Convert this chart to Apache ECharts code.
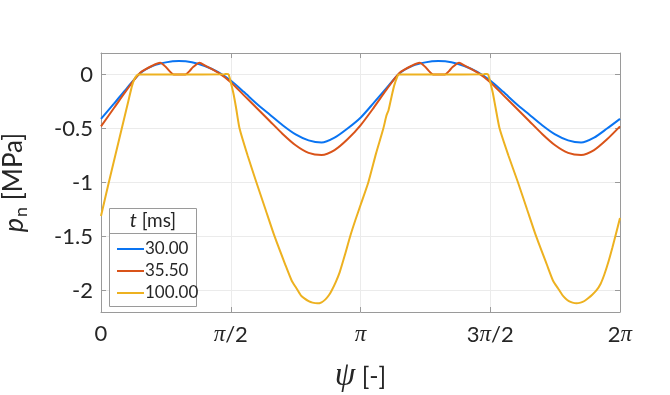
<!DOCTYPE html>
<html>
<head>
<meta charset="utf-8">
<script src="https://cdn.jsdelivr.net/npm/echarts@6/dist/echarts.min.js"></script>
<style>
  html, body { margin: 0; padding: 0; background: #fff; }
  #chart { width: 670px; height: 395px; }
</style>
</head>
<body>
<div id="chart"></div>
<script>
// psi is given in units of pi, p_n in MPa
var legendNames = ['30.00', '35.50', '100.00'];
var lineColors = ['#0a74f2', '#d95319', '#edb120'];

var xTickValues = [0, 0.5, 1, 1.5, 2];
var xTickLabels = ['0', 'π/2', 'π', '3π/2', '2π'];
var yTickValues = [-2, -1.5, -1, -0.5, 0];
var yTickLabels = ['-2', '-1.5', '-1', '-0.5', '0'];

var psiA = [0, 0.05, 0.10, 0.15, 0.20, 0.25, 0.30, 0.35, 0.40, 0.45, 0.50, 0.55, 0.60, 0.65, 0.70, 0.75, 0.80, 0.85, 0.90, 0.95,
            1.00, 1.05, 1.10, 1.15, 1.20, 1.25, 1.30, 1.35, 1.40, 1.45, 1.50, 1.55, 1.60, 1.65, 1.70, 1.75, 1.80, 1.85, 1.90, 1.95, 2.00];
var pA = [-0.41, -0.27, -0.125, 0.01, 0.08, 0.113, 0.125, 0.115, 0.08, 0.025, -0.055, -0.16, -0.27, -0.37, -0.47, -0.555, -0.61, -0.63, -0.585, -0.50,
          -0.40, -0.265, -0.125, 0.01, 0.08, 0.113, 0.125, 0.115, 0.08, 0.025, -0.055, -0.16, -0.27, -0.37, -0.47, -0.555, -0.61, -0.63, -0.585, -0.50, -0.41];

var psiB = [0, 0.05, 0.10, 0.15, 0.20, 0.228, 0.25, 0.265, 0.28, 0.30, 0.325, 0.34, 0.355, 0.38, 0.40, 0.45, 0.50, 0.55, 0.60, 0.65, 0.70, 0.75, 0.80, 0.85, 0.90, 0.95,
            1.00, 1.05, 1.10, 1.15, 1.20, 1.228, 1.25, 1.265, 1.28, 1.30, 1.325, 1.34, 1.355, 1.38, 1.40, 1.45, 1.50, 1.55, 1.60, 1.65, 1.70, 1.75, 1.80, 1.85, 1.90, 1.95, 2.00];
var pB = [-0.48, -0.31, -0.14, 0.015, 0.085, 0.11, 0.07, 0.03, 0.0, 0.0, 0.0, 0.03, 0.07, 0.11, 0.085, 0.02, -0.07, -0.19, -0.31, -0.43, -0.55, -0.655, -0.725, -0.745, -0.70, -0.60,
          -0.47, -0.31, -0.14, 0.015, 0.085, 0.11, 0.07, 0.03, 0.0, 0.0, 0.0, 0.03, 0.07, 0.11, 0.085, 0.02, -0.07, -0.19, -0.31, -0.43, -0.55, -0.655, -0.725, -0.745, -0.70, -0.60, -0.48];

var psiC = [0, 0.03, 0.055, 0.08, 0.105, 0.12, 0.13, 0.138, 0.145, 0.30, 0.475, 0.485, 0.492, 0.50, 0.51, 0.52, 0.534, 0.565, 0.599, 0.634, 0.669, 0.71, 0.735, 0.753, 0.77, 0.785, 0.80, 0.815, 0.834, 0.85, 0.865, 0.878, 0.889, 0.905, 0.92, 0.94, 0.96, 0.98,
            1.00, 1.03, 1.06, 1.088, 1.10, 1.108, 1.12, 1.13, 1.14, 1.147, 1.30, 1.475, 1.485, 1.492, 1.50, 1.51, 1.52, 1.536, 1.57, 1.607, 1.642, 1.677, 1.718, 1.742, 1.761, 1.777, 1.79, 1.803, 1.817, 1.832, 1.848, 1.863, 1.877, 1.893, 1.909, 1.925, 1.94, 1.956, 1.971, 1.985, 2.00];
var pC = [-1.31, -1.00, -0.75, -0.50, -0.25, -0.10, -0.035, -0.008, 0.0, 0.0, 0.004, 0.006, 0.0, -0.07, -0.17, -0.30, -0.50, -0.75, -1.00, -1.25, -1.50, -1.76, -1.91, -1.98, -2.045, -2.076, -2.099, -2.113, -2.12, -2.11, -2.083, -2.045, -2.00, -1.92, -1.83, -1.67, -1.50, -1.35,
          -1.21, -1.00, -0.73, -0.50, -0.38, -0.33, -0.20, -0.10, -0.03, 0.0, 0.0, 0.004, 0.006, 0.0, -0.07, -0.17, -0.30, -0.50, -0.75, -1.00, -1.25, -1.50, -1.76, -1.91, -1.98, -2.04, -2.075, -2.099, -2.113, -2.12, -2.113, -2.098, -2.073, -2.04, -2.00, -1.94, -1.85, -1.73, -1.60, -1.47, -1.33];

function pairs(xs, ys) {
  return xs.map(function (x, i) { return [x, ys[i]]; });
}

var font = 'Lato';
var textColor = '#262626';
var axisColor = '#9a9a9a';

function piRich(s) {
  return s.replace('π', '{pi|π}');
}

var chart = echarts.init(document.getElementById('chart'), null, { renderer: 'canvas' });

var tickStyle = { show: true, inside: true, length: 5, lineStyle: { color: axisColor, width: 1 } };
var lineStyleAxis = { show: true, onZero: false, lineStyle: { color: axisColor, width: 1 } };

chart.setOption({
  animation: false,
  backgroundColor: '#fff',
  textStyle: { fontFamily: font },
  grid: { left: 101, top: 53, width: 519, height: 259, containLabel: false, outerBoundsMode: 'none' },
  xAxis: [{
    type: 'value', min: 0, max: 2, interval: 0.5,
    position: 'bottom',
    axisLine: lineStyleAxis,
    axisTick: tickStyle,
    splitLine: { show: true, lineStyle: { color: '#ebebeb', width: 1 } },
    axisLabel: {
      margin: 11, color: textColor, fontSize: 22, fontFamily: font,
      formatter: function (v) {
        var i = xTickValues.indexOf(v);
        return i < 0 ? '' : piRich(xTickLabels[i]);
      },
      rich: { pi: { fontFamily: 'Liberation Serif', fontStyle: 'italic', fontSize: 23, color: textColor } }
    },
    name: '{psi|ψ} [-]',
    nameLocation: 'middle', nameGap: 48,
    nameTextStyle: {
      color: textColor, fontSize: 25, fontFamily: font,
      rich: { psi: { fontFamily: 'Liberation Serif', fontStyle: 'italic', fontSize: 33, color: textColor } }
    }
  }, {
    type: 'value', min: 0, max: 2, interval: 0.5,
    position: 'top',
    axisLine: lineStyleAxis,
    axisTick: tickStyle,
    axisLabel: { show: false },
    splitLine: { show: false }
  }],
  yAxis: [{
    type: 'value', min: -2.2, max: 0.2,
    position: 'left',
    axisLine: lineStyleAxis,
    axisTick: Object.assign({ customValues: yTickValues }, tickStyle),
    splitLine: { show: true, lineStyle: { color: '#ebebeb', width: 1 } },
    axisLabel: {
      customValues: yTickValues,
      margin: 8, color: textColor, fontSize: 22, fontFamily: font,
      formatter: function (v) {
        for (var i = 0; i < yTickValues.length; i++) {
          if (Math.abs(yTickValues[i] - v) < 1e-9) return yTickLabels[i];
        }
        return '';
      }
    },
    name: '{p|p}{n|n} [MPa]',
    nameLocation: 'middle', nameGap: 71, nameRotate: 90,
    nameTextStyle: {
      color: textColor, fontSize: 26, fontFamily: font,
      rich: {
        p: { fontFamily: font, fontStyle: 'italic', fontSize: 27, color: textColor },
        n: { fontFamily: font, fontSize: 18, color: textColor, padding: [14, 0, 0, 1] }
      }
    }
  }, {
    type: 'value', min: -2.2, max: 0.2,
    position: 'right',
    axisLine: lineStyleAxis,
    axisTick: Object.assign({ customValues: yTickValues }, tickStyle),
    axisLabel: { show: false, customValues: yTickValues },
    splitLine: { show: false }
  }],
  legend: {
    data: legendNames,
    orient: 'vertical',
    left: 112, top: 235, z: 100,
    icon: 'rect', itemWidth: 27, itemHeight: 2, itemGap: 4,
    textStyle: { color: textColor, fontSize: 17, fontFamily: font, padding: [0, 0, 0, -4], lineHeight: 18 },
    selectedMode: false
  },
  graphic: [{
    type: 'rect', z: 50,
    shape: { x: 109.5, y: 208.5, width: 87, height: 98 },
    style: { fill: '#fff', stroke: axisColor, lineWidth: 1 }
  }, {
    type: 'line', z: 51,
    shape: { x1: 109.5, y1: 233.5, x2: 196.5, y2: 233.5 },
    style: { stroke: axisColor, lineWidth: 1 }
  }, {
    type: 'text', z: 51,
    x: 153, y: 221,
    style: {
      text: '{t|t} [ms]', align: 'center', verticalAlign: 'middle',
      fill: textColor, fontSize: 19, fontFamily: font,
      rich: { t: { fontStyle: 'italic', fontSize: 20, fontFamily: font, fill: textColor } }
    }
  }],
  series: legendNames.map(function (name, i) {
    var d = [pairs(psiA, pA), pairs(psiB, pB), pairs(psiC, pC)][i];
    return {
      name: name, type: 'line', data: d,
      xAxisIndex: 0, yAxisIndex: 0,
      showSymbol: false, symbol: 'none',
      smooth: i === 2 ? 0.2 : 0.25,
      lineStyle: { color: lineColors[i], width: 2 },
      itemStyle: { color: lineColors[i] },
      z: 2 + i
    };
  })
});
</script>
</body>
</html>
